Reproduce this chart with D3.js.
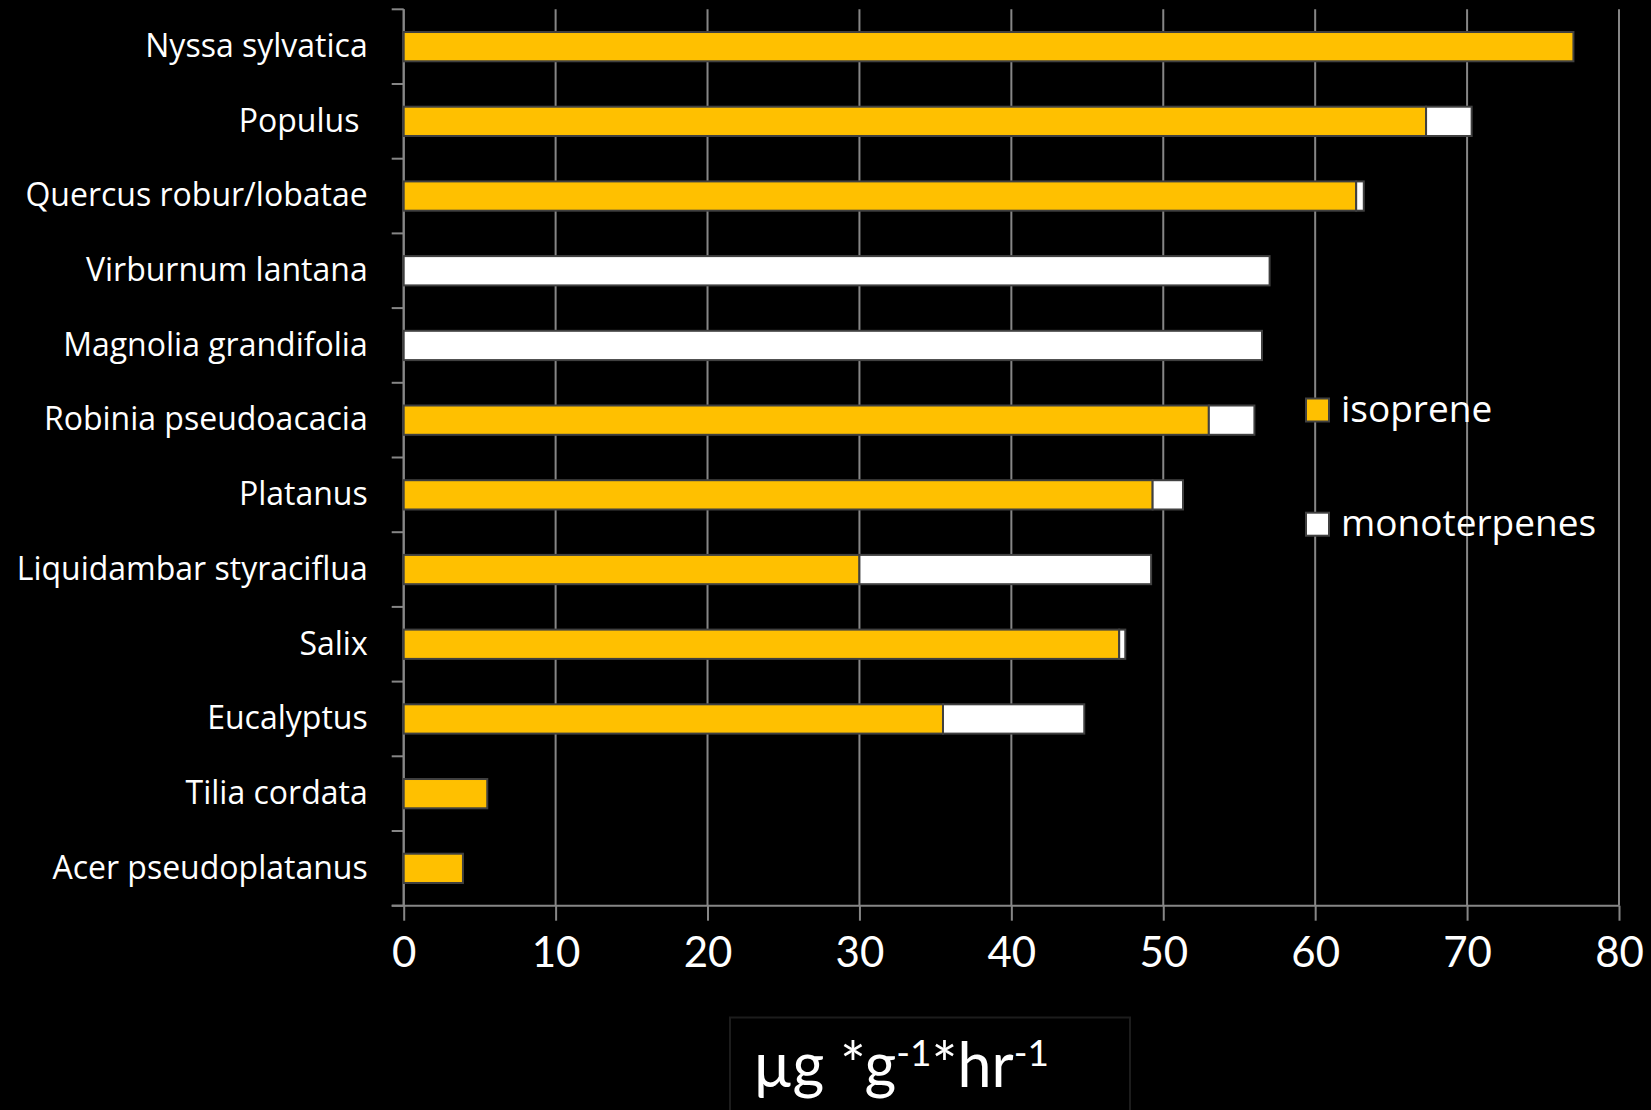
<!DOCTYPE html>
<html>
<head>
<meta charset="utf-8">
<script src="https://cdn.jsdelivr.net/npm/d3@7/dist/d3.min.js"></script>
<style>
  html, body { margin: 0; padding: 0; background: #000; }
  svg { display: block; }
  text { font-family: Lato, "Open Sans", sans-serif; fill: #fff; }
</style>
</head>
<body>
<svg id="chart" width="1651" height="1110"></svg>
<script>
// ---- data ----
const categories = [
  "Nyssa sylvatica", "Populus ", "Quercus robur/lobatae", "Virburnum lantana",
  "Magnolia grandifolia", "Robinia pseudoacacia", "Platanus", "Liquidambar styraciflua",
  "Salix", "Eucalyptus", "Tilia cordata", "Acer pseudoplatanus"
];
const isoprene     = [77.0, 67.3, 62.7, 0, 0, 53.0, 49.3, 30.0, 47.1, 35.5, 5.5, 3.9];
const monoterpenes = [0, 3.0, 0.5, 57.0, 56.5, 3.0, 2.0, 19.2, 0.4, 9.3, 0, 0];
const seriesNames  = ["isoprene", "monoterpenes"];
const seriesColors = ["#FFC000", "#FFFFFF"];
const xTicks = [0, 10, 20, 30, 40, 50, 60, 70, 80];

(function () {
// ---- layout ----
const svg = d3.select("#chart");
const pLeft = 403.7, pRight = 1619, pTop = 9.3, pBottom = 905.7;
const x = d3.scaleLinear().domain([0, 80]).range([pLeft, pRight]);
const y = d3.scaleBand().domain(categories).range([pTop, pBottom])
  .paddingInner(0.608).paddingOuter(0.304);
const gridColor = "#868686";

// grid lines
svg.append("g").selectAll("line").data(xTicks).join("line")
  .attr("x1", d => x(d)).attr("x2", d => x(d))
  .attr("y1", pTop).attr("y2", pBottom)
  .attr("stroke", gridColor).attr("stroke-width", 2);

// y axis line and boundary ticks
const step = y.step();
const boundaries = d3.range(categories.length + 1).map(i => pTop + i * step);
svg.append("line").attr("x1", pLeft).attr("x2", pLeft).attr("y1", pTop).attr("y2", pBottom)
  .attr("stroke", gridColor).attr("stroke-width", 2);
svg.append("g").selectAll("line").data(boundaries).join("line")
  .attr("x1", pLeft - 12).attr("x2", pLeft).attr("y1", d => d).attr("y2", d => d)
  .attr("stroke", gridColor).attr("stroke-width", 2);

// x axis
const xAxis = svg.append("g").attr("transform", `translate(0,${pBottom})`)
  .call(d3.axisBottom(x).tickValues(xTicks).tickSize(15).tickPadding(16).tickSizeOuter(0));
xAxis.select(".domain").attr("d", `M${pLeft - 12},0H${pRight}`).attr("stroke", gridColor).attr("stroke-width", 2);
xAxis.selectAll(".tick line").attr("stroke", gridColor).attr("stroke-width", 2);
xAxis.selectAll(".tick text").attr("fill", "#fff").style("font-size", "42px")
  .style("font-family", "Lato, sans-serif");

// category labels
const yAxis = svg.append("g").attr("transform", `translate(${pLeft},0)`)
  .call(d3.axisLeft(y).tickSize(0).tickPadding(36));
yAxis.select(".domain").remove();
yAxis.selectAll(".tick text").attr("fill", "#fff").style("font-size", "32px")
  .style("white-space", "pre").style("font-family", "'Open Sans', sans-serif").attr("dy", "0.32em");

// stacked bars
const rows = categories.map((c, i) => ({ c, iso: isoprene[i], mono: monoterpenes[i] }));
const bars = svg.append("g");
bars.selectAll("rect.iso").data(rows.filter(d => d.iso > 0)).join("rect")
  .attr("class", "iso")
  .attr("x", x(0)).attr("y", d => y(d.c))
  .attr("width", d => x(d.iso) - x(0)).attr("height", y.bandwidth())
  .attr("fill", seriesColors[0]).attr("stroke", "#404040").attr("stroke-width", 2);
bars.selectAll("rect.mono").data(rows.filter(d => d.mono > 0)).join("rect")
  .attr("class", "mono")
  .attr("x", d => x(d.iso)).attr("y", d => y(d.c))
  .attr("width", d => x(d.iso + d.mono) - x(d.iso)).attr("height", y.bandwidth())
  .attr("fill", seriesColors[1]).attr("stroke", "#404040").attr("stroke-width", 2);

// legend
const legend = svg.append("g");
const legendY = [398.5, 512.7];
seriesNames.forEach((name, i) => {
  legend.append("rect").attr("x", 1306).attr("y", legendY[i]).attr("width", 23).attr("height", 23)
    .attr("fill", seriesColors[i]).attr("stroke", "#404040").attr("stroke-width", 2);
  legend.append("text").attr("x", 1341).attr("y", legendY[i] + 23)
    .style("font-family", "'Open Sans', sans-serif")
    .style("font-size", "37px").text(name);
});

// axis title box
svg.append("rect").attr("x", 730).attr("y", 1017.5).attr("width", 400).attr("height", 110)
  .attr("fill", "none").attr("stroke", "#1c1c1c").attr("stroke-width", 2);
const title = svg.append("text").attr("x", 753).attr("y", 1087).style("font-size", "61px");
title.append("tspan").text("µg *g");
title.append("tspan").attr("dy", -21).style("font-size", "37px").text("-1");
title.append("tspan").attr("dy", 21).text("*hr");
title.append("tspan").attr("dy", -21).style("font-size", "37px").text("-1");
})();
</script>
</body>
</html>
